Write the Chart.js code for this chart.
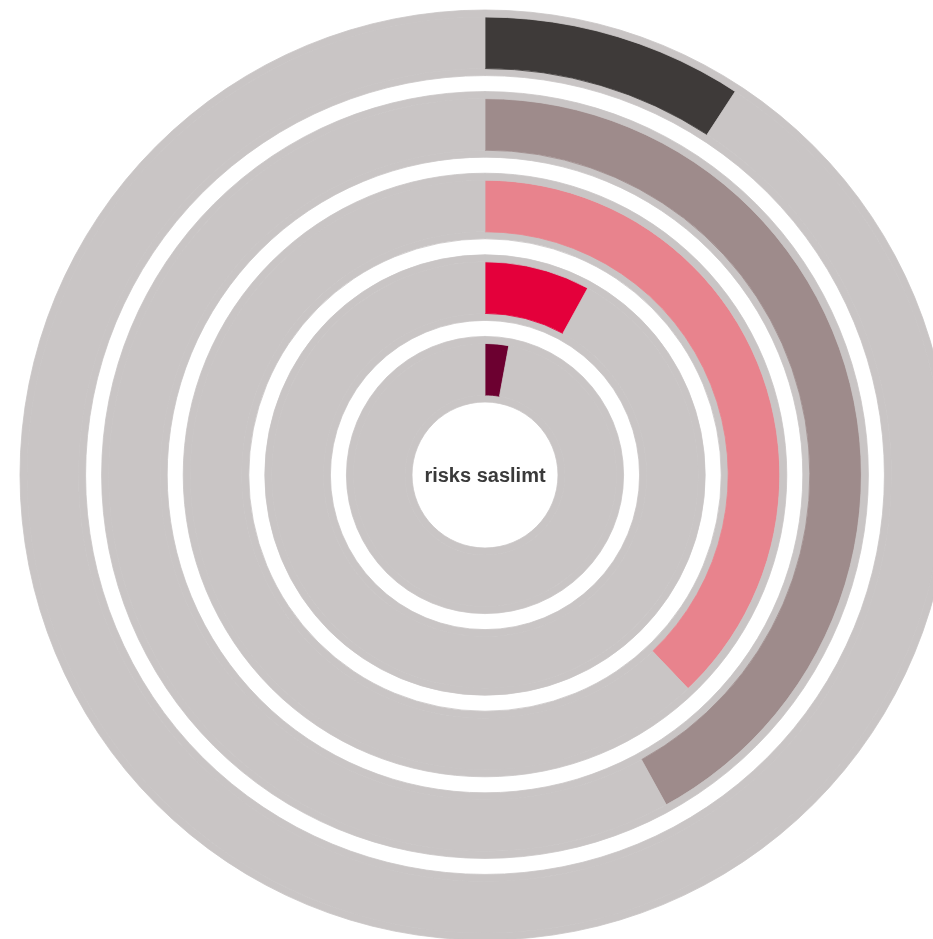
<!DOCTYPE html>
<html>
<head>
<meta charset="utf-8">
<script src="https://cdn.jsdelivr.net/npm/chart.js@4.4.1/dist/chart.umd.min.js"></script>
<style>
  html, body { margin: 0; padding: 0; background: #fff; overflow: hidden; }
  #wrap { position: relative; width: 933px; height: 939px; }
  #label {
    position: absolute; left: 385px; top: 460px; width: 200px; text-align: center;
    font-family: "Liberation Sans", Arial, sans-serif; font-weight: bold; font-size: 20px;
    color: #3a3a3a; line-height: 30px;
  }
</style>
</head>
<body>
<div id="wrap">
  <canvas id="myChart" width="933" height="939"></canvas>
  <div id="label">risks saslimt</div>
</div>
<script>
// rings from outside to inside, share of full circle in %
const ringValues = [9.2, 42, 37.9, 8, 2.9];
const ringColors = ['#3e3a39', '#9e8b8b', '#e8838d', '#e4003b', '#6c0030'];
const ringMax = 100;
const trackColor = '#c9c5c5';

// weights of the bands that make one ring (outer margin, bar, inner margin) and the gap
var margem = 7, barra = 51.5, espaco = 16;

var datasets = [];
for (var i = 0; i < ringValues.length; i++) {
    // border in the same colour hides the seams between the bands
    datasets.push({ data: [1], backgroundColor: [trackColor], borderColor: [trackColor], weight: margem });
    datasets.push({
        data: [ringValues[i], ringMax - ringValues[i]],
        backgroundColor: [ringColors[i], trackColor],
        borderColor: [ringColors[i], trackColor],
        weight: barra
    });
    datasets.push({ data: [1], backgroundColor: [trackColor], borderColor: [trackColor], weight: margem });
    if (i < ringValues.length - 1) {
        datasets.push({ data: [1], backgroundColor: ['rgba(0,0,0,0)'], borderColor: ['rgba(0,0,0,0)'], weight: espaco });
    }
}

const ctx = document.getElementById('myChart');

new Chart(ctx, {
    type: 'doughnut',
    data: {
        labels: ['valor', 'resto'],
        datasets: datasets
    },
    options: {
        responsive: false,
        animation: false,
        radius: 465,
        cutout: (73 / 465 * 100) + '%',
        borderWidth: 0.8,
        clip: false,
        layout: { padding: { left: 37, right: 0, top: 11, bottom: 0 } },
        plugins: {
            legend: { display: false },
            tooltip: { enabled: false }
        }
    }
});
</script>
</body>
</html>
